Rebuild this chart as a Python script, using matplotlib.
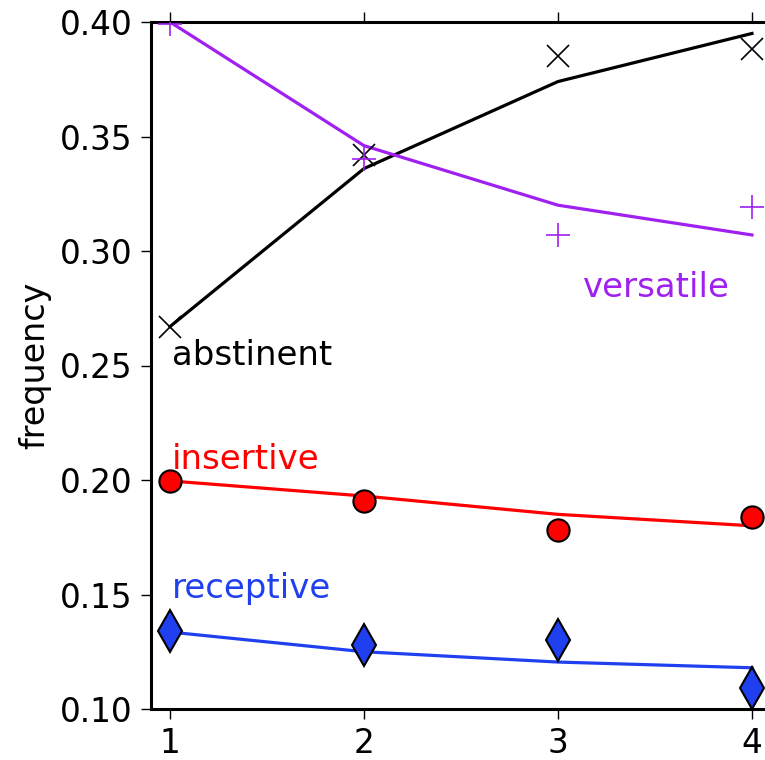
import matplotlib
matplotlib.use("Agg")
import matplotlib.pyplot as plt

x = [1, 2, 3, 4]
abstinent_obs = [0.267, 0.342, 0.385, 0.388]
abstinent_fit = [0.267, 0.336, 0.374, 0.395]
versatile_obs = [0.399, 0.340, 0.307, 0.319]
versatile_fit = [0.400, 0.346, 0.320, 0.307]
insertive_obs = [0.1996, 0.191, 0.178, 0.184]
insertive_fit = [0.1996, 0.193, 0.185, 0.180]
receptive_obs = [0.134, 0.128, 0.130, 0.109]
receptive_fit = [0.1336, 0.125, 0.1205, 0.118]
xticks = [1, 2, 3, 4]
yticks = [0.10, 0.15, 0.20, 0.25, 0.30, 0.35, 0.40]

purple = "#a020f0"
blue = "#2040f0"

fig = plt.figure(figsize=(7.65, 7.6), dpi=100)
ax = fig.add_axes([150.6 / 765, 51 / 760, 620.8 / 765, 687 / 760])

ax.plot(x, abstinent_fit, color="black", lw=2.3, zorder=2)
ax.plot(x, versatile_fit, color=purple, lw=2.3, zorder=2)
ax.plot(x, insertive_fit, color="red", lw=2.3, zorder=2)
ax.plot(x, receptive_fit, color=blue, lw=2.3, zorder=2)

ax.plot(x, abstinent_obs, ls="none", marker="x", ms=16, mew=1.2, color="black", zorder=3)
ax.plot(x, versatile_obs, ls="none", marker="+", ms=17, mew=1.2, color=purple, zorder=3)
ax.plot(x, insertive_obs, ls="none", marker="o", ms=16, mfc="red", mec="black", mew=1.5, zorder=3)
ax.plot(x, receptive_obs, ls="none", marker="d", ms=21, mfc=blue, mec="black", mew=1.5, zorder=3)

fs = 24.5
ax.text(1.01, 0.2502, "abstinent", color="black", fontsize=fs)
ax.text(3.129, 0.280, "versatile", color=purple, fontsize=fs)
ax.text(1.01, 0.205, "insertive", color="red", fontsize=fs)
ax.text(1.01, 0.1485, "receptive", color=blue, fontsize=fs)

ax.set_xlim(0.9, 4.1)
ax.set_ylim(0.10, 0.40)
ax.set_xticks(xticks)
ax.set_yticks(yticks)
ax.set_yticklabels([f"{v:.2f}" for v in yticks])
ax.set_ylabel("frequency", fontsize=24, labelpad=6)
ax.tick_params(axis="both", direction="out", length=7, width=1, labelsize=23.5, top=True, right=False, pad=6)
for side in ["left", "bottom", "top"]:
    ax.spines[side].set_linewidth(2.2)
ax.spines["right"].set_visible(False)

fig.savefig("out.png", dpi=100)
